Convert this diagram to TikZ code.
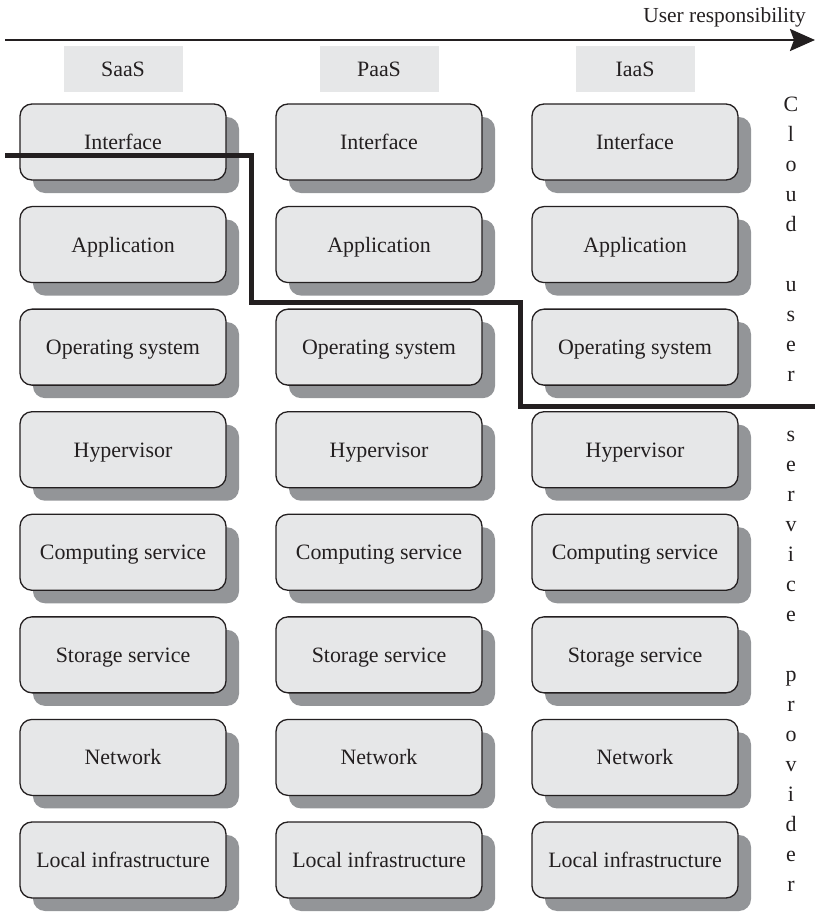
\documentclass[tikz,border=0pt]{standalone}
\usepackage{fontspec}
\setmainfont{Liberation Serif}
\usetikzlibrary{arrows.meta}
\definecolor{boxfill}{HTML}{E6E7E8}
\definecolor{shadowgray}{HTML}{939598}
\definecolor{headfill}{HTML}{E6E7E8}
\definecolor{ink}{HTML}{231F20}

\begin{document}
\begin{tikzpicture}[x=1bp,y=-1bp,
  layerbox/.style={draw=ink, line width=1.3bp, fill=boxfill, rounded corners=12bp,
    minimum width=206bp, minimum height=76bp, inner sep=0pt,
    text height=15bp, text depth=0bp, font=\fontsize{22}{26}\selectfont, text=ink},
  layershadow/.style={fill=shadowgray, rounded corners=12bp,
    minimum width=206bp, minimum height=76bp, inner sep=0pt},
  headerbox/.style={fill=headfill, minimum width=119bp, minimum height=46bp, inner sep=0pt,
    text height=15bp, text depth=0bp, font=\fontsize{22}{26}\selectfont, text=ink},
  sidetext/.style={anchor=base, inner sep=0pt, font=\fontsize{22}{26}\selectfont, text=ink},
  axisline/.style={draw=ink, line width=2.6bp, -{Stealth[length=25bp,width=22bp,inset=4bp]}},
  boundary/.style={draw=ink, line width=5bp},
]
\useasboundingbox (0,0) rectangle (815,912);

% responsibility axis
\coordinate (axis-start) at (5,40);
\coordinate (axis-end) at (815,40);
\draw[axisline] (axis-start) -- (axis-end);
\node[anchor=base east, inner sep=0pt, font=\fontsize{21.5}{26}\selectfont, text=ink]
  (axis-label) at (806,22) {User responsibility};

% service models: headers and layer stacks
\foreach \name/\title/\cx in {saas/SaaS/123, paas/PaaS/379, iaas/IaaS/635} {
  \node[headerbox] (\name-head) at (\cx,69) {\title};
  \foreach \lbl [count=\r from 0] in {Interface, Application, Operating system, Hypervisor,
      Computing service, Storage service, Network, Local infrastructure} {
    \pgfmathsetmacro{\cy}{142+102.57*\r}
    \node[layershadow] (\name-\r-sh) at (\cx+13,\cy+13) {};
    \node[layerbox] (\name-\r) at (\cx,\cy) {\lbl};
  }
}

% vertical side label
\foreach \ch/\k in {C/0,l/1,o/2,u/3,d/4,
                    u/6,s/7,e/8,r/9,
                    s/11,e/12,r/13,v/14,i/15,c/16,e/17,
                    p/19,r/20,o/21,v/22,i/23,d/24,e/25,r/26} {
  \node[sidetext] (side-\k) at (791,111+30*\k) {\ch};
}

% boundary between user and provider responsibility
\coordinate (b0) at (5,155);
\coordinate (b1) at (251,155);
\coordinate (b2) at (251,302);
\coordinate (b3) at (520,302);
\coordinate (b4) at (520,406);
\coordinate (b5) at (815,406);
\draw[boundary] (b0) -- (b1) -- (b2) -- (b3) -- (b4) -- (b5);
\end{tikzpicture}
\end{document}
